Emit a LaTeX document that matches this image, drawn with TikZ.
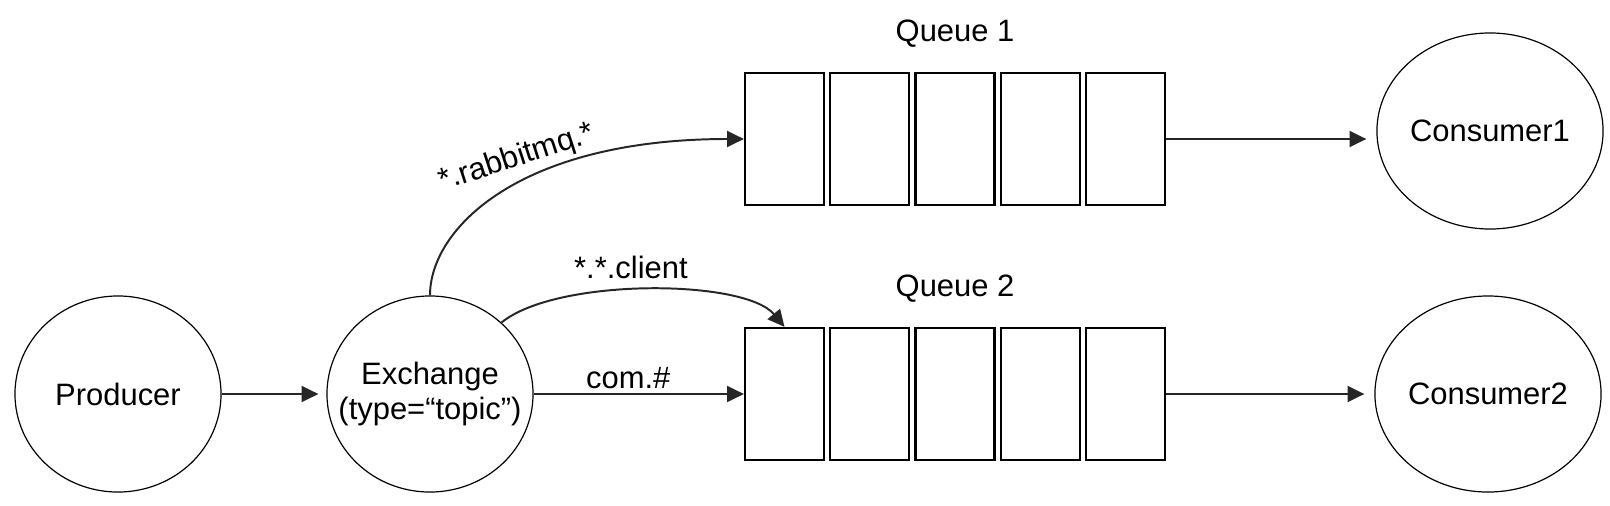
\documentclass[tikz,border=0pt]{standalone}
\usepackage{fontspec}
\setmainfont{Liberation Sans}
\usepackage{tikz}
\usetikzlibrary{shapes.geometric, arrows.meta, positioning}

\begin{document}
\begin{tikzpicture}[
        x=0.025cm, y=-0.025cm,
        node distance=0.5cm and 0.1cm,
        font=\fontsize{22}{25}\selectfont,
        actor/.style={
            ellipse,
            draw=black,
            line width=0.85pt,
            minimum width=5.15cm,
            minimum height=4.9cm,
            inner sep=0pt,
            align=center
        },
        slot/.style={
            rectangle,
            draw=black,
            line width=1.6pt,
            minimum width=1.975cm,
            minimum height=3.3cm
        },
        tag/.style={inner sep=2pt},
        arrow/.style={-{Triangle[length=0.42cm, width=0.4cm]}, line width=1.4pt, draw=black!85}
    ]

    \useasboundingbox (0,0) rectangle (1610,506);

    \node (prod)  [actor] at (118,394) {Producer};
    \node (exch)  [actor, label={[align=center]center:Exchange\\(type=“topic”)}] at (430,394) {};

    % queue 1
    \node (q1a) [slot] at (784.5,139) {};
    \node (q1b) [slot, right=of q1a] {};
    \node (q1c) [slot, right=of q1b] {};
    \node (q1d) [slot, right=of q1c] {};
    \node (q1e) [slot, right=of q1d] {};
    \node (q1lbl) [above=of q1c] {Queue 1};

    % queue 2
    \node (q2a) [slot] at (784.5,394) {};
    \node (q2b) [slot, right=of q2a] {};
    \node (q2c) [slot, right=of q2b] {};
    \node (q2d) [slot, right=of q2c] {};
    \node (q2e) [slot, right=of q2d] {};
    \node (q2lbl) [above=of q2c] {Queue 2};

    \node (cons1) [actor] at (1490,131) {Consumer1};
    \node (cons2) [actor] at (1488,394) {Consumer2};

    \node (rlbl) [tag, rotate=18] at (517,158) {*.rabbitmq.*};

    \draw [arrow, shorten >=0.2cm] (prod) -- (exch);
    \draw [arrow] (exch.north) .. controls +(0,-67) and +(-224,0) .. (q1a.west);
    \draw [arrow] (exch.45) .. controls +(55,-45) and +(-40,-48) .. (q2a.north)
        node[pos=0.45, above=4pt] {*.*.client};
    \draw [arrow] (exch) -- (q2a)
        node[pos=0.45, above] {com.\#};
    \draw [arrow, shorten >=0.25cm] (q1e.east) -- (q1e.east -| cons1.west);
    \draw [arrow, shorten >=0.25cm] (q2e) -- (cons2);

    \end{tikzpicture}
\end{document}
